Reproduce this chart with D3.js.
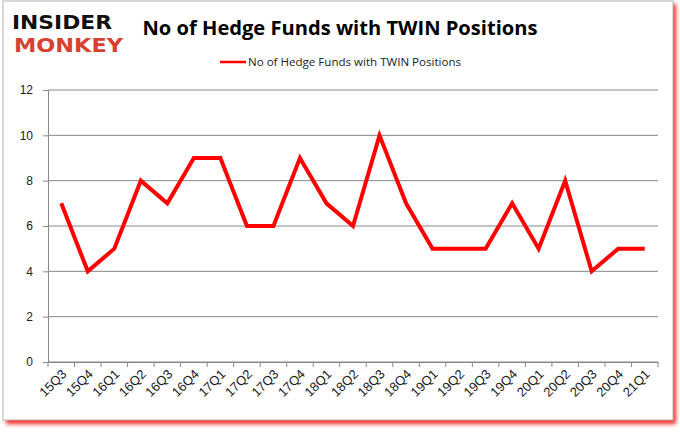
<!DOCTYPE html>
<html>
<head>
<meta charset="utf-8">
<script src="https://cdn.jsdelivr.net/npm/d3@7"></script>
<style>
  body { margin: 0; background: #fff; }
  svg { display: block; font-family: "Open Sans", "DejaVu Sans", sans-serif; }
</style>
</head>
<body>
<div id="chart"></div>
<script>
const quarters = ["15Q3","15Q4","16Q1","16Q2","16Q3","16Q4","17Q1","17Q2","17Q3","17Q4",
  "18Q1","18Q2","18Q3","18Q4","19Q1","19Q2","19Q3","19Q4","20Q1","20Q2","20Q3","20Q4","21Q1"];
const funds = [7,4,5,8,7,9,9,6,6,9,7,6,10,7,5,5,5,7,5,8,4,5,5];
const yTicks = [0,2,4,6,8,10,12];
const seriesName = "No of Hedge Funds with TWIN Positions";

const W = 680, H = 433;
const margin = { top: 90, right: 22, bottom: 71, left: 48 };
const width = W - margin.left - margin.right,
    height = H - margin.top - margin.bottom;

const svg = d3.select("#chart").append("svg")
    .attr("width", W)
    .attr("height", H);

// frame with red shadow
const defs = svg.append("defs");
const f = defs.append("filter").attr("id", "blur").attr("x", "-5%").attr("y", "-5%").attr("width", "110%").attr("height", "110%");
f.append("feGaussianBlur").attr("stdDeviation", 2);
svg.append("rect")
    .attr("x", 6).attr("y", 4).attr("width", 670).attr("height", 420)
    .attr("fill", "#f00").attr("opacity", 0.85)
    .attr("filter", "url(#blur)");
svg.append("rect")
    .attr("x", 3).attr("y", 1).attr("width", 670).attr("height", 419)
    .attr("fill", "#fff").attr("stroke", "#b5b5b5").attr("stroke-width", 1);

// logo
svg.append("text").attr("x", 12).attr("y", 29)
    .attr("font-family", "DejaVu Sans").attr("font-weight", 900).attr("font-size", 20)
    .attr("textLength", 100).attr("lengthAdjust", "spacingAndGlyphs")
    .attr("fill", "#111").text("INSIDER");
svg.append("text").attr("x", 14).attr("y", 52)
    .attr("font-family", "DejaVu Sans").attr("font-weight", 900).attr("font-size", 20)
    .attr("textLength", 109).attr("lengthAdjust", "spacingAndGlyphs")
    .attr("fill", "#d8412f").text("MONKEY");

// title
svg.append("text").attr("x", 340).attr("y", 35)
    .attr("text-anchor", "middle")
    .attr("font-size", 20).attr("font-weight", "bold")
    .attr("textLength", 395).attr("lengthAdjust", "spacingAndGlyphs")
    .attr("fill", "#000").text("No of Hedge Funds with TWIN Positions");

// legend
svg.append("line").attr("x1", 220).attr("x2", 246).attr("y1", 62).attr("y2", 62)
    .attr("stroke", "#f00").attr("stroke-width", 2.5);
svg.append("text").attr("x", 248).attr("y", 66)
    .attr("font-size", 11.5).attr("fill", "#222")
    .attr("textLength", 213).attr("lengthAdjust", "spacingAndGlyphs")
    .text(seriesName);

const g = svg.append("g").attr("transform", `translate(${margin.left},${margin.top})`);

const x = d3.scaleBand().domain(quarters).range([0, width]);
const y = d3.scaleLinear().domain([0, 12]).range([height, 0]);

// gridlines
g.selectAll(".grid").data(yTicks).join("line")
    .attr("x1", 0).attr("x2", width)
    .attr("y1", d => y(d)).attr("y2", d => y(d))
    .attr("stroke", "#888").attr("stroke-width", 1);

// y axis
const yAxis = g.append("g")
    .call(d3.axisLeft(y).tickValues(yTicks).tickSize(5).tickPadding(10));
yAxis.select(".domain").attr("stroke", "#888");
yAxis.selectAll(".tick line").attr("stroke", "#888");
yAxis.selectAll("text").attr("font-size", 12).attr("fill", "#222");

// x axis
const xAxis = g.append("g").attr("transform", `translate(0,${height})`)
    .call(d3.axisBottom(x).tickSize(0).tickPadding(0));
xAxis.select(".domain").attr("stroke", "#888");
xAxis.selectAll(".tick line").remove();
xAxis.selectAll(".xt").data(d3.range(quarters.length + 1)).join("line")
    .attr("x1", i => i * x.step()).attr("x2", i => i * x.step())
    .attr("y1", 0).attr("y2", 5).attr("stroke", "#888");
xAxis.selectAll(".tick text")
    .attr("font-size", 13).attr("fill", "#222")
    .attr("text-anchor", "end")
    .attr("dy", 0)
    .attr("transform", "translate(6,13) rotate(-45)");

// line
const line = d3.line()
    .x((d, i) => x(quarters[i]) + x.bandwidth() / 2)
    .y(d => y(d));
g.append("path").datum(funds)
    .attr("fill", "none").attr("stroke", "#f00").attr("stroke-width", 4)
    .attr("stroke-linejoin", "miter")
    .attr("d", line);
</script>
</body>
</html>
